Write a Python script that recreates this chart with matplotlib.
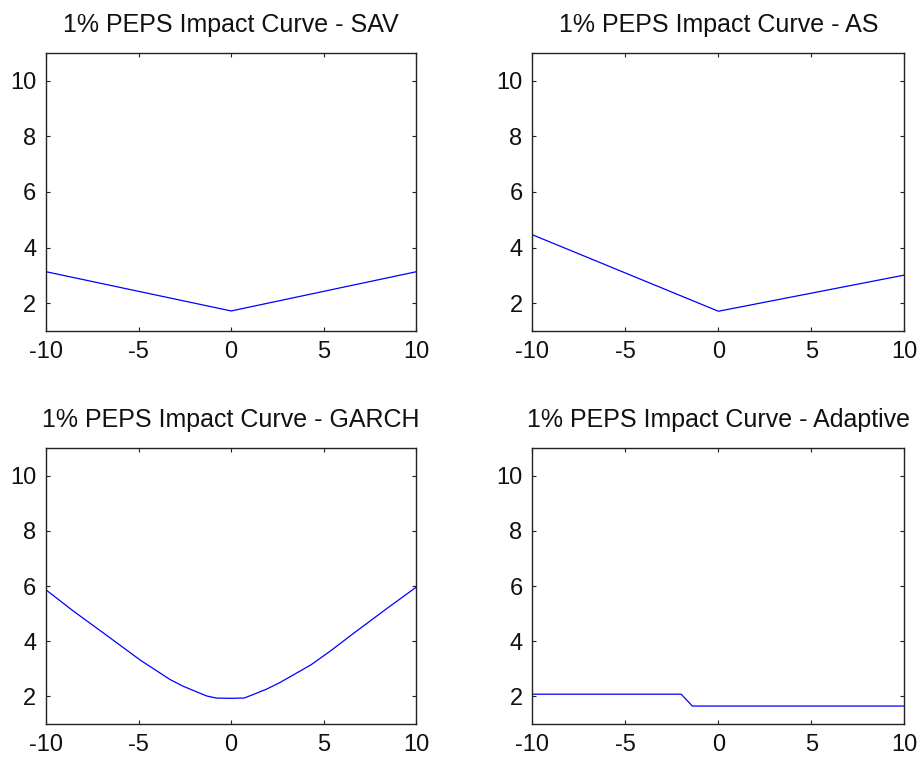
"""Impact curves of the 1% PEPS for four volatility models."""

from matplotlib import pyplot

# Curves read per model: x = shock, y = impact.
sav_x = [-10, 0, 10]
sav_y = [3.13, 1.72, 3.13]

as_x = [-10, 0, 10]
as_y = [4.46, 1.71, 3.01]

garch_x = [-10, -8.5, -6.7, -4.9, -3.3, -2.6, -1.85, -1.3, -0.8, 0, 0.7,
           1.2, 1.9, 2.6, 3.1, 4.3, 5.35, 6.6, 8.4, 10]
garch_y = [5.86, 5.08, 4.20, 3.31, 2.61, 2.37, 2.16, 2.01, 1.94, 1.93, 1.94,
           2.07, 2.26, 2.49, 2.68, 3.14, 3.64, 4.28, 5.18, 5.96]

adaptive_x = [-10, -2.0, -1.4, 10]
adaptive_y = [2.08, 2.08, 1.65, 1.65]

titles = ['1% PEPS Impact Curve - SAV', '1% PEPS Impact Curve - AS',
          '1% PEPS Impact Curve - GARCH', '1% PEPS Impact Curve - Adaptive']
curves = [(sav_x, sav_y), (as_x, as_y), (garch_x, garch_y),
          (adaptive_x, adaptive_y)]
xticks = [-10, -5, 0, 5, 10]
yticks = [2, 4, 6, 8, 10]

pyplot.rc('font', family='Liberation Sans', size=17)
pyplot.rc('axes', unicode_minus=False)
fig = pyplot.figure(figsize=(9.21, 7.6), dpi=100)
# Axes boxes: left, bottom, width, height in figure fractions.
boxes = [(0.050, 0.5645, 0.402, 0.366), (0.578, 0.5645, 0.404, 0.366),
         (0.050, 0.0474, 0.402, 0.363), (0.578, 0.0474, 0.404, 0.363)]

for box, title, (x, y) in zip(boxes, titles, curves):
    ax = fig.add_axes(box)
    ax.plot(x, y, color='#0000ff', linewidth=0.9)
    ax.set_xlim(-10, 10)
    ax.set_ylim(1, 11)
    ax.set_xticks(xticks)
    ax.set_yticks(yticks)
    ax.tick_params(direction='in', top=True, right=True, length=3,
                   width=0.8, pad=7, color='#222222', labelcolor='#111111')
    for spine in ax.spines.values():
        spine.set_linewidth(1.0)
        spine.set_color('#222222')
    ax.set_title(title, pad=15, fontsize=18, color='#111111')

fig.savefig('out.png', dpi=100)
